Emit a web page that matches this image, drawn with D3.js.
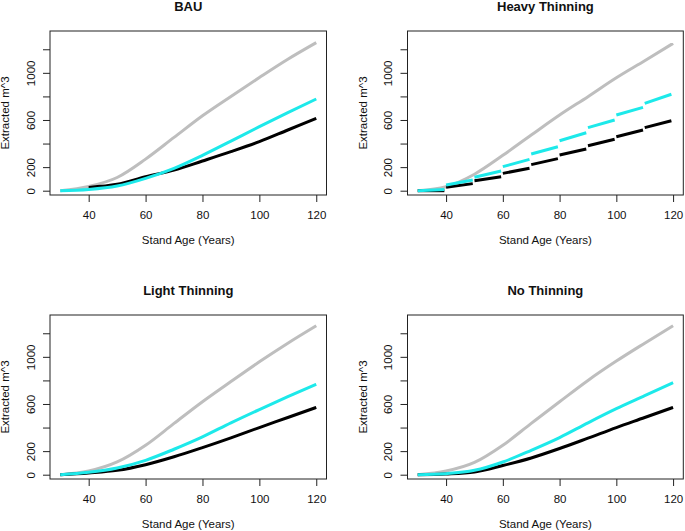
<!DOCTYPE html>
<html>
<head>
<meta charset="utf-8">
<script src="https://cdn.jsdelivr.net/npm/d3@7"></script>
<style>
  html, body { margin: 0; padding: 0; background: #fff; }
  svg { display: block; font-family: "Liberation Sans", Arial, Helvetica, sans-serif; }
</style>
</head>
<body>
<svg id="chart" width="685" height="531"></svg>
<script>
// ---------------- data ----------------
const panelTitles = ["BAU", "Heavy Thinning", "Light Thinning", "No Thinning"];
const xTicks = [40, 60, 80, 100, 120];
const yTicks = [0, 200, 400, 600, 800, 1000, 1200];
const yTickLabels = ["0", "200", "", "600", "", "1000", ""];
const xLabel = "Stand Age (Years)";
const yLabel = "Extracted m^3";

const ages = [30, 40, 50, 60, 70, 80, 90, 100, 110, 120];

// BAU
const bauGray  = [0, 36, 112, 268, 452, 636, 800, 960, 1115, 1256];
const bauCyan  = [0, 11, 40, 105, 190, 300, 421, 543, 662, 778];
const bauBlack = [null, 28, 54, 119, 175, 252, 331, 416, 515, 614];

// Heavy thinning: continuous gray, decade segments for cyan and black
const hvGray = [0, 34, 140, 300, 472, 642, 798, 958, 1103, 1250];
const hvSegStart  = [30, 40, 50, 60, 70, 80, 90, 100, 110];
const hvCyanFrom  = [0, 48, 114, 204, 311, 424, 535, 642, 741];
const hvCyanTo    = [10, 91, 167, 266, 373, 492, 600, 707, 818];
const hvBlackFrom = [0, 29, 85, 147, 221, 303, 382, 458, 535];
const hvBlackTo   = [0, 60, 119, 190, 272, 354, 436, 515, 594];

// Light thinning
const ltGray  = [0, 31, 108, 250, 435, 619, 790, 958, 1116, 1264];
const ltCyan  = [0, 20, 57, 122, 216, 321, 440, 553, 662, 767];
const ltBlack = [0, 15, 37, 85, 152, 230, 313, 400, 485, 571];

// No thinning
const ntGray  = [0, 31, 104, 250, 435, 619, 800, 964, 1116, 1264];
const ntCyan  = [0, 9, 37, 108, 207, 315, 440, 560, 670, 781];
const ntBlack = [0, 6, 23, 78, 142, 222, 310, 400, 485, 571];

const colGray = "#bebebe", colCyan = "#1de9ea", colBlack = "#000000";

// ---------------- layout ----------------
const svg = d3.select("#chart");
const boxes = [
  {x0: 50,    x1: 326.5, y0: 31,  y1: 195},
  {x0: 407.5, x1: 683.3, y0: 31,  y1: 195},
  {x0: 50,    x1: 326.5, y0: 315, y1: 479},
  {x0: 407.5, x1: 683.3, y0: 315, y1: 479}
];

function toPts(xs, ys) { return xs.map((a, i) => [a, ys[i]]); }

const panelSeries = [
  [{c: colGray, segs: [toPts(ages, bauGray)]},
   {c: colBlack, segs: [toPts(ages, bauBlack).filter(p => p[1] !== null)]},
   {c: colCyan, segs: [toPts(ages, bauCyan)]}],
  [{c: colGray, segs: [toPts(ages, hvGray)]},
   {c: colBlack, segs: hvSegStart.map((d, i) => [[d, hvBlackFrom[i]], [d + 9.4, hvBlackTo[i]]])},
   {c: colCyan, segs: hvSegStart.map((d, i) => [[d, hvCyanFrom[i]], [d + 9.4, hvCyanTo[i]]])}],
  [{c: colGray, segs: [toPts(ages, ltGray)]},
   {c: colBlack, segs: [toPts(ages, ltBlack)]},
   {c: colCyan, segs: [toPts(ages, ltCyan)]}],
  [{c: colGray, segs: [toPts(ages, ntGray)]},
   {c: colBlack, segs: [toPts(ages, ntBlack)]},
   {c: colCyan, segs: [toPts(ages, ntCyan)]}]
];

boxes.forEach((b, k) => {
  const x = d3.scaleLinear().domain([26.4, 123.6]).range([b.x0, b.x1]);
  const y = d3.scaleLinear().domain([-36.5, 1355]).range([b.y1, b.y0]);
  const g = svg.append("g");

  // series
  const line = d3.line().x(d => x(d[0])).y(d => y(d[1])).curve(d3.curveMonotoneX);
  panelSeries[k].forEach(s => {
    s.segs.forEach(seg => {
      g.append("path").attr("d", line(seg))
        .attr("fill", "none").attr("stroke", s.c)
        .attr("stroke-width", 3).attr("stroke-linecap", "butt");
    });
  });

  // box
  g.append("rect").attr("x", b.x0).attr("y", b.y0)
    .attr("width", b.x1 - b.x0).attr("height", b.y1 - b.y0)
    .attr("fill", "none").attr("stroke", "#222").attr("stroke-width", 1);

  // x axis
  const xa = g.append("g").attr("transform", `translate(0,${b.y1})`)
    .call(d3.axisBottom(x).tickValues(xTicks).tickSize(7).tickPadding(3).tickFormat(d3.format("d")));
  xa.select(".domain").remove();
  xa.selectAll("line").attr("stroke", "#222");
  xa.selectAll("text").attr("font-size", "11.5px").attr("fill", "#111")
    .attr("dy", null).attr("y", 24);

  // y axis
  const ya = g.append("g").attr("transform", `translate(${b.x0},0)`)
    .call(d3.axisLeft(y).tickValues(yTicks).tickSize(7).tickFormat((d, i) => yTickLabels[i]));
  ya.select(".domain").remove();
  ya.selectAll("line").attr("stroke", "#222");
  ya.selectAll("text").attr("font-size", "11.5px").attr("fill", "#111")
    .attr("x", null).attr("dy", null)
    .attr("text-anchor", "middle")
    .attr("transform", "translate(-15.5,0) rotate(-90)");

  // titles
  const cx = (b.x0 + b.x1) / 2, cy = (b.y0 + b.y1) / 2;
  g.append("text").attr("x", cx).attr("y", b.y0 - 20.5)
    .attr("text-anchor", "middle").attr("font-weight", "bold")
    .attr("font-size", "13px").attr("fill", "#111").text(panelTitles[k]);
  g.append("text").attr("x", cx).attr("y", b.y1 + 48.5)
    .attr("text-anchor", "middle").attr("font-size", "11.5px")
    .attr("fill", "#111").text(xLabel);
  g.append("text").attr("transform", `translate(${b.x0 - 41},${cy}) rotate(-90)`)
    .attr("text-anchor", "middle").attr("font-size", "11.5px")
    .attr("fill", "#111").text(yLabel);
});
</script>
</body>
</html>
